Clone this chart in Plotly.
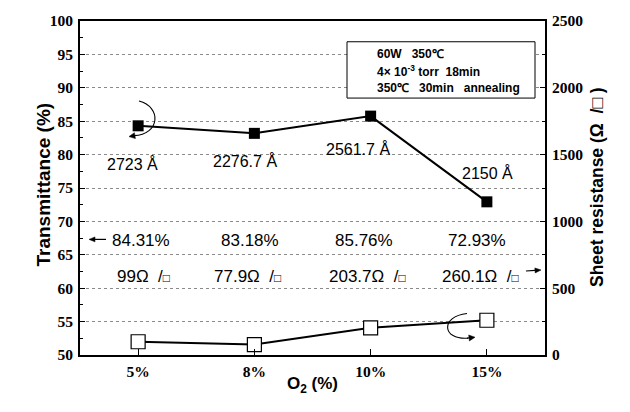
import plotly.graph_objects as go

# O2 flow ratio categories
o2_labels = ["5%", "8%", "10%", "15%"]
transmittance = [84.31, 83.18, 85.76, 72.93]          # %
sheet_res = [99, 77.9, 203.7, 260.1]                  # ohm / sq
thickness = ["2723 Å", "2276.7 Å", "2561.7 Å", "2150 Å"]
trans_text = ["84.31%", "83.18%", "85.76%", "72.93%"]
res_text = ["99Ω  /<span style='font-size:12px'>□</span>",
            "77.9Ω  /<span style='font-size:12px'>□</span>",
            "203.7Ω  /<span style='font-size:12px'>□</span>",
            "260.1Ω  /<span style='font-size:12px'>□</span>"]
cond_lines = ["<b>60W   350℃</b>",
              "<b>4× 10<sup>-3</sup> torr  18min</b>",
              "<b>350℃   30min   annealing</b>"]

SERIF = "Liberation Serif"
SANS = "Liberation Sans"

# plot area in pixels
L, R, T, B = 80, 85, 17, 57
W, H = 630, 412
PW, PH = W - L - R, H - T - B


def px(x):
    return (x - L) / PW


def py(y):
    return (H - B - y) / PH


def arrow_shapes(head, tail, hl=6, hw=3.2, width=1.2):
    """Straight arrow in pixel space: shaft line plus a filled triangular head."""
    (hx, hy), (tx, ty) = head, tail
    dx, dy = hx - tx, hy - ty
    n = (dx * dx + dy * dy) ** 0.5
    ux, uy = dx / n, dy / n
    bx, by = hx - ux * hl, hy - uy * hl
    p1 = (bx - uy * hw, by + ux * hw)
    p2 = (bx + uy * hw, by - ux * hw)
    return [
        dict(type="line", xref="paper", yref="paper", x0=px(tx), y0=py(ty),
             x1=px(bx), y1=py(by), line=dict(color="black", width=width)),
        dict(type="path", xref="paper", yref="paper",
             path=f"M {px(hx)} {py(hy)} L {px(p1[0])} {py(p1[1])} L {px(p2[0])} {py(p2[1])} Z",
             fillcolor="black", line=dict(color="black", width=0.5)),
    ]


def curve(points, width=1.1):
    (x0, y0), (c1x, c1y), (c2x, c2y), (x1, y1) = points
    return dict(type="path", xref="paper", yref="paper",
                path=(f"M {px(x0)} {py(y0)} C {px(c1x)} {py(c1y)} "
                      f"{px(c2x)} {py(c2y)} {px(x1)} {py(y1)}"),
                line=dict(color="black", width=width))


fig = go.Figure()

fig.add_trace(go.Scatter(
    x=o2_labels, y=transmittance, mode="lines+markers",
    line=dict(color="black", width=2),
    marker=dict(symbol="square", size=11, color="black"),
    showlegend=False, yaxis="y",
))
fig.add_trace(go.Scatter(
    x=o2_labels, y=sheet_res, mode="lines+markers",
    line=dict(color="black", width=2),
    marker=dict(symbol="square", size=14, color="white",
                line=dict(color="black", width=1.2)),
    showlegend=False, yaxis="y2",
))

ann = []
# film thickness labels
th_y = [78.6, 79.1, 80.8, 77.2]
th_shift = [-6, -9, -13, 1]
for c, t, yv, sh in zip(o2_labels, thickness, th_y, th_shift):
    ann.append(dict(x=c, y=yv, xref="x", yref="y", text=t, showarrow=False,
                    xshift=sh, font=dict(family=SANS, size=16, color="black")))

# transmittance value row
tr_shift = [3, -4, -7, -10]
for c, t, sh in zip(o2_labels, trans_text, tr_shift):
    ann.append(dict(x=c, y=67.2, xref="x", yref="y", text=t, showarrow=False,
                    xshift=sh, font=dict(family=SANS, size=17, color="black")))

# sheet resistance value row
rs_shift = [5, -7, -3, -6]
for c, t, sh in zip(o2_labels, res_text, rs_shift):
    ann.append(dict(x=c, y=61.7, xref="x", yref="y", text=t, showarrow=False,
                    xshift=sh, font=dict(family=SANS, size=17, color="black")))

# process condition box text
for i, t in enumerate(cond_lines):
    ann.append(dict(x=px(375), y=py(50 + 17.5 * i), xref="paper", yref="paper", text=t,
                    showarrow=False, xanchor="left", yanchor="middle",
                    font=dict(family=SANS, size=12, color="black")))

# axis titles
ann.append(dict(x=px(31), y=py(183), xref="paper", yref="paper", text="<b>Transmittance (%)</b>",
                showarrow=False, textangle=-90, font=dict(family=SANS, size=19, color="black")))
ann.append(dict(x=px(609), y=py(185), xref="paper", yref="paper",
                text="<b>Sheet resistanse (Ω  /□ )</b>",
                showarrow=False, textangle=-90, font=dict(family=SANS, size=17.5, color="black")))
ann.append(dict(x=px(312), y=py(399), xref="paper", yref="paper", text="<b>O<sub>2</sub> (%)</b>",
                showarrow=False, font=dict(family=SANS, size=17, color="black")))

shapes = [
    # condition box
    dict(type="rect", xref="paper", yref="paper", x0=px(347), x1=px(535), y0=py(95), y1=py(38),
         line=dict(color="black", width=1), fillcolor="white", layer="above"),
    # curved pointer toward the left axis
    curve([(139, 98), (162, 104), (160, 132), (134, 133)]),
    # curved pointer toward the right axis
    curve([(467, 313), (440, 316), (442, 340), (468, 338)]),
]
# arrowheads on the curved pointers
shapes += arrow_shapes((129, 134), (135, 133), hl=6, hw=3)
shapes += arrow_shapes((475, 337), (467, 338), hl=6, hw=3)
# straight arrows by the value rows
shapes += arrow_shapes((89, 238), (106, 238), hl=6, hw=2.5)
shapes += arrow_shapes((541, 269), (526, 270), hl=6, hw=2.5)

tick_font = dict(family=SERIF, size=15.5, color="black", weight="bold")
fig.update_layout(
    width=W, height=H,
    margin=dict(l=L, r=R, t=T, b=B),
    paper_bgcolor="white", plot_bgcolor="white",
    annotations=ann, shapes=shapes,
    xaxis=dict(
        type="category", range=[-0.5, 3.5],
        showline=True, linecolor="black", linewidth=2, mirror=True,
        ticks="inside", ticklen=6, tickwidth=1.2, tickcolor="black",
        minor=dict(ticks="inside", ticklen=3, tickcolor="black"),
        showgrid=False, zeroline=False,
        tickfont=tick_font, ticklabelstandoff=1,
    ),
    yaxis=dict(
        range=[50, 100], dtick=5, tick0=50,
        showline=True, linecolor="black", linewidth=2, mirror=True,
        ticks="inside", ticklen=5, tickwidth=1.2, tickcolor="black",
        minor=dict(ticks="inside", ticklen=3, dtick=2.5, tickcolor="black"),
        showgrid=True, gridcolor="#8a8a8a", gridwidth=1, griddash="dot",
        zeroline=False,
        tickfont=tick_font, ticklabelstandoff=2,
    ),
    yaxis2=dict(
        range=[0, 2500], dtick=500, tick0=0, overlaying="y", side="right",
        showline=True, linecolor="black", linewidth=2,
        ticks="inside", ticklen=5, tickwidth=1.2, tickcolor="black",
        minor=dict(ticks="inside", ticklen=3, dtick=250, tickcolor="black"),
        showgrid=False, zeroline=False,
        tickfont=tick_font, ticklabelstandoff=2,
    ),
)

fig.write_html("out.html")
